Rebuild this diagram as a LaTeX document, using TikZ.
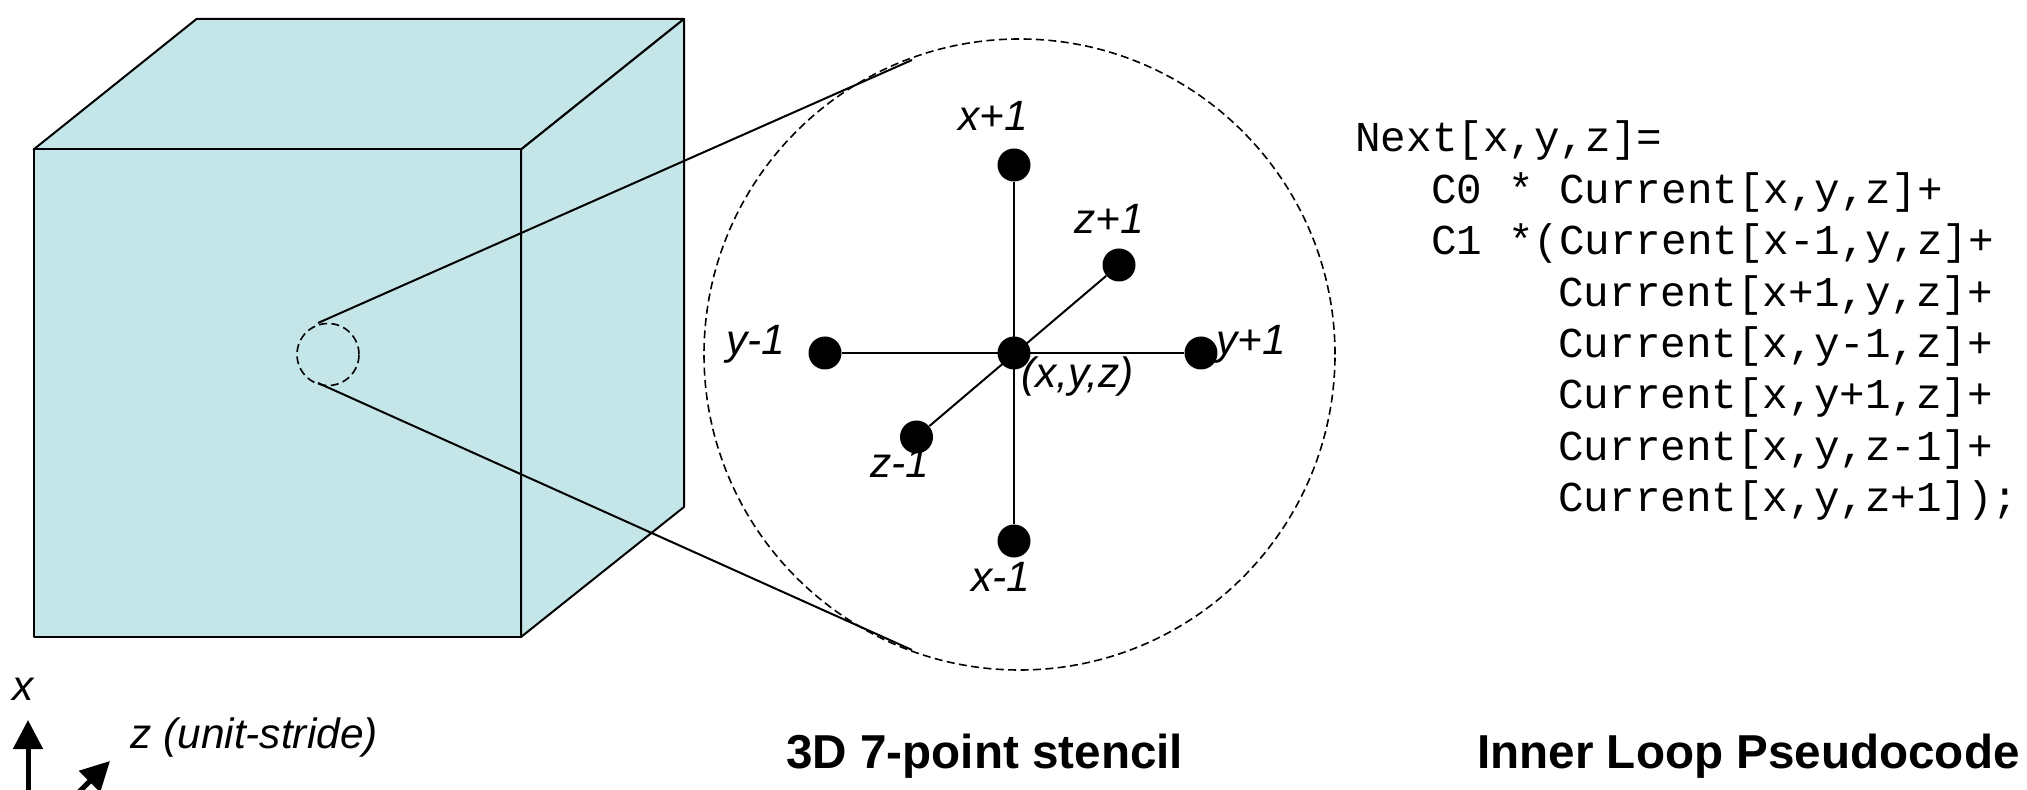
\documentclass[tikz,border=0pt]{standalone}
\usepackage{fontspec}
\setmainfont{Liberation Sans}
\setmonofont{Liberation Mono}
\usetikzlibrary{arrows.meta}
\definecolor{cubefill}{HTML}{C5E6E8}
\tikzset{
  face/.style={draw=black,fill=cubefill,line width=1pt,line join=round},
  dot/.style={circle,fill=black,inner sep=0pt,minimum size=16.5pt},
  spoke/.style={draw=black,line width=1pt},
  lens/.style={circle,draw=black,line width=0.8pt,dash pattern=on 4pt off 2.2pt,inner sep=0pt},
  lbl/.style={anchor=base west,inner sep=0pt,font=\fontsize{21.2}{25}\selectfont\itshape},
  code/.style={anchor=base west,inner sep=0pt,font=\fontsize{21.3}{25}\selectfont\ttfamily},
  title/.style={anchor=base west,inner sep=0pt,font=\fontsize{23.8}{28}\selectfont\bfseries},
  axis/.style={line width=2.5pt,-{Triangle[length=14.5pt,width=14.5pt]}}
}
\begin{document}
\begin{tikzpicture}[x=0.5pt,y=-0.5pt]
\useasboundingbox (0,0) rectangle (2027,790);
% cube
\draw[face] (33.6,149.5) -- (196.5,19) -- (684,19) -- (521,149.5) -- cycle;
\draw[face] (521,149.5) -- (684,19) -- (684,507) -- (521,637) -- cycle;
\draw[face] (33.6,149.5) rectangle (521,637);
% lens circles
\node[lens,minimum size=31pt] (small) at (328,354.5) {};
\node[lens,minimum size=315.5pt] (big) at (1019.5,354.5) {};
\coordinate (st) at (318,323);
\coordinate (sb) at (318,383);
\coordinate (bt) at (912,60);
\coordinate (bb) at (912,650);
\draw[spoke] (st) -- (bt);
\draw[spoke] (sb) -- (bb);
% stencil
\node[dot] (c) at (1014,353) {};
\node[dot] (xp) at (1014,165) {};
\node[dot] (xm) at (1014,541) {};
\node[dot] (ym) at (825,353) {};
\node[dot] (yp) at (1201,353) {};
\node[dot] (zp) at (1119,265) {};
\node[dot] (zm) at (916.5,437) {};
\draw[spoke] (xp) -- (xm);
\draw[spoke] (ym) -- (yp);
\draw[spoke] (zp) -- (zm);
\node[lbl] (lxp) at (958,131) {x+1};
\node[lbl] (lzp) at (1074,234) {z+1};
\node[lbl] (lym) at (726,355) {y-1};
\node[lbl] (lyp) at (1216,355) {y+1};
\node[lbl] (lc) at (1021,388) {(x,y,z)};
\node[lbl] (lzm) at (870,478) {z-1};
\node[lbl] (lxm) at (971,591) {x-1};
% code
\node[code] (c1) at (1355,152) {Next[x,y,z]=};
\node[code] (c2) at (1431,203.4) {C0~*~Current[x,y,z]+};
\node[code] (c3) at (1431,254.8) {C1~*(Current[x-1,y,z]+};
\node[code] (c4) at (1558,306.2) {Current[x+1,y,z]+};
\node[code] (c5) at (1558,357.6) {Current[x,y-1,z]+};
\node[code] (c6) at (1558,409) {Current[x,y+1,z]+};
\node[code] (c7) at (1558,460.4) {Current[x,y,z-1]+};
\node[code] (c8) at (1558,511.8) {Current[x,y,z+1]);};
% axes
\node[lbl] (ax) at (12,700) {x};
\node[lbl] (az) at (130,748) {z (unit-stride)};
\coordinate (xs) at (28,830);
\coordinate (xt) at (28,720);
\coordinate (zs) at (40,831);
\coordinate (zt) at (110,761);
\draw[axis] (xs) -- (xt);
\draw[axis] (zs) -- (zt);
% titles
\node[title] (t1) at (786,768) {3D 7-point stencil};
\node[title] (t2) at (1477,768) {Inner Loop Pseudocode};
\end{tikzpicture}
\end{document}
